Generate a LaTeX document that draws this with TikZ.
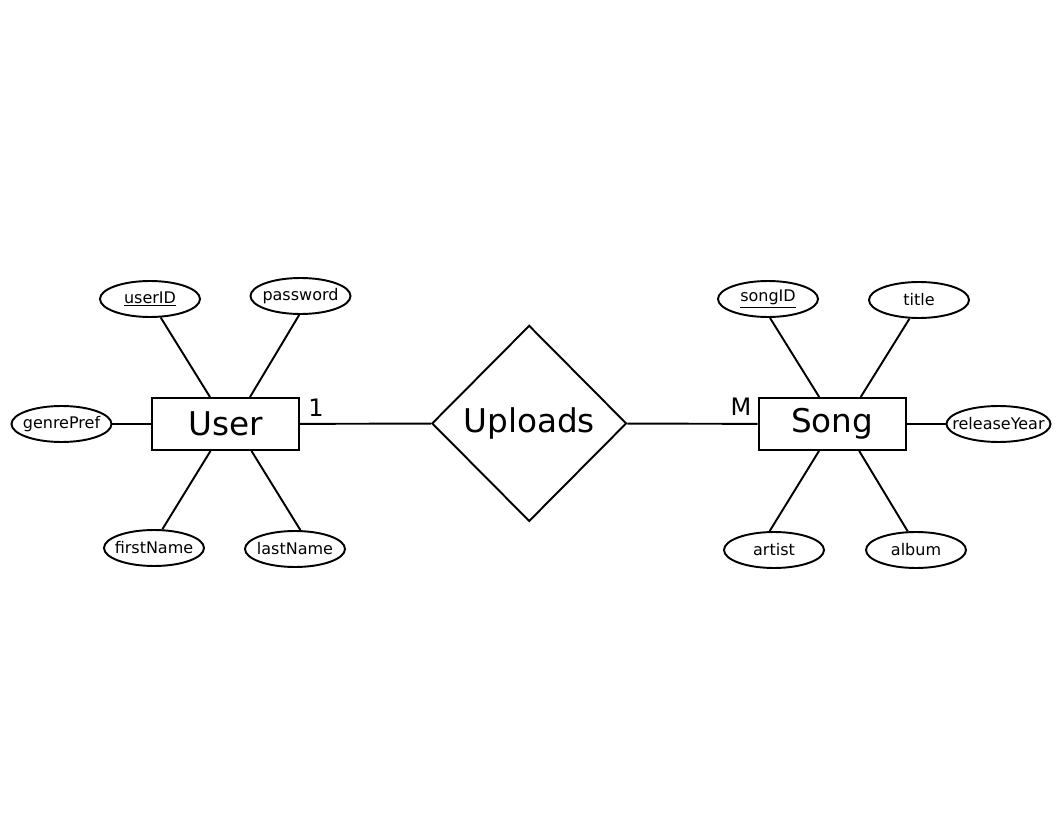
\documentclass[tikz,border=0pt]{standalone}
\usepackage{fontspec}
\setmainfont{DejaVu Sans}
\usetikzlibrary{shapes.geometric}

\tikzset{every picture/.style={line width=1.45pt}}
\tikzset{
  entity/.style={draw, rectangle, minimum width=110.5pt, minimum height=39pt, inner sep=0pt, font=\fontsize{24.5}{28}\selectfont},
  relation/.style={draw, diamond, minimum width=146pt, minimum height=147pt, inner sep=0pt, font=\fontsize{24.5}{28}\selectfont},
  attr/.style={draw, ellipse, minimum width=75pt, minimum height=27pt, inner sep=0pt, font=\fontsize{12}{14}\selectfont},
  card/.style={inner sep=0pt, font=\fontsize{18}{20}\selectfont}
}

\begin{document}
\begin{tikzpicture}[x=0.75pt,y=0.75pt,yscale=-1,xscale=1]
    \useasboundingbox (0,0) rectangle (1056,816);

    % Entities and relation
    \node [entity] (user) at (225.5,424) {User};
    \node [entity] (song) at (832.2,424) {Song};
    \node [relation] (uploads) at (529.2,423.4) {Uploads};

    % Attributes of User
    \node [attr] (userID) at (150,299) {\makebox[0pt]{\underline{userID}}};
    \node [attr] (password) at (300.5,296) {\makebox[0pt]{password}};
    \node [attr] (genrePref) at (61.5,424) {\makebox[0pt]{genrePref}};
    \node [attr] (firstName) at (154,548) {\makebox[0pt]{firstName}};
    \node [attr] (lastName) at (295,549) {\makebox[0pt]{lastName}};

    % Attributes of Song
    \node [attr] (songID) at (768,299) {\makebox[0pt]{\underline{songID}}};
    \node [attr] (title) at (919,300) {\makebox[0pt]{title}};
    \node [attr, minimum width=78pt] (releaseYear) at (998.5,424) {\makebox[0pt]{releaseYear}};
    \node [attr] (artist) at (774,550) {\makebox[0pt]{artist}};
    \node [attr] (album) at (916,550) {\makebox[0pt]{album}};

    % Cardinalities
    \node [card] (one) at (316,408) {1};
    \node [card] (many) at (741,407) {M};

    %Straight Lines
    \draw (user) -- (uploads);
    \draw (uploads) -- (song);
    \draw (userID.-60) -- ([shift={(-15.5,0)}]user.north);
    \draw (password.-94) -- ([shift={(24.5,0)}]user.north);
    \draw (genrePref) -- (user);
    \draw (firstName.66) -- ([shift={(-15,0)}]user.south);
    \draw (lastName.74) -- ([shift={(26,0)}]user.south);
    \draw (songID.-84) -- ([shift={(-13,0)}]song.north);
    \draw (title.-117) -- ([shift={(28.5,0)}]song.north);
    \draw (releaseYear) -- (song);
    \draw (artist.103) -- ([shift={(-13.2,0)}]song.south);
    \draw (album.114) -- ([shift={(27,0)}]song.south);
\end{tikzpicture}
\end{document}
